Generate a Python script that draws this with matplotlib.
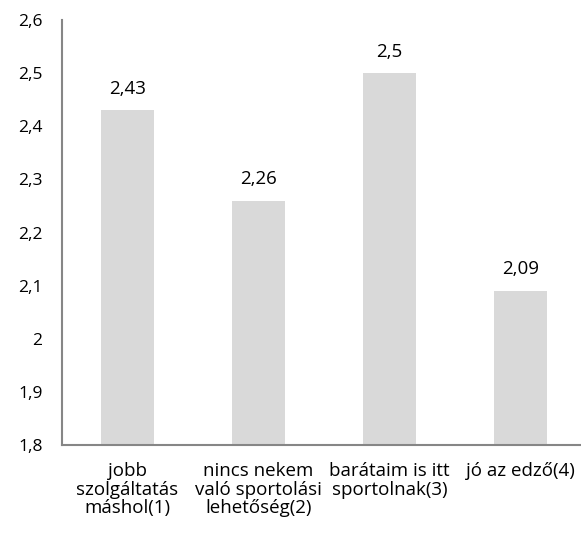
import matplotlib
matplotlib.use("Agg")
import matplotlib.pyplot as plt

categories = ["jobb\nszolgáltatás\nmáshol(1)",
              "nincs nekem\nvaló sportolási\nlehetőség(2)",
              "barátaim is itt\nsportolnak(3)",
              "jó az edző(4)"]
values = [2.43, 2.26, 2.5, 2.09]
yticks = [1.8, 1.9, 2.0, 2.1, 2.2, 2.3, 2.4, 2.5, 2.6]

plt.rcParams['font.family'] = ['Open Sans', 'DejaVu Sans']
plt.rcParams['font.size'] = 13.5


def fmt(v):
    s = f"{v:.2f}".rstrip("0").rstrip(".")
    return s.replace(".", ",")


fig = plt.figure(figsize=(5.81, 5.37), dpi=100)
ax = fig.add_axes([0.1067, 0.1713, 0.9019, 0.7914])

x = list(range(len(values)))
ax.bar(x, [v - 1.8 for v in values], bottom=1.8, width=0.4, color="#d9d9d9")

for xi, v in zip(x, values):
    ax.annotate(fmt(v), (xi, v), xytext=(0, 9), textcoords="offset points",
                ha="center", va="bottom", color="#000000")

ax.set_xlim(-0.5, 3.5)
ax.set_ylim(1.8, 2.6)
ax.set_yticks(yticks)
ax.set_yticklabels([fmt(t) for t in yticks], fontsize=12.5)
ax.set_xticks(x)
ax.set_xticklabels(categories, linespacing=1.06)
ax.tick_params(axis="both", length=0)
ax.tick_params(axis="y", pad=14)
ax.tick_params(axis="x", pad=12)

for side in ("top", "right"):
    ax.spines[side].set_visible(False)
for side in ("left", "bottom"):
    ax.spines[side].set_color("#868686")
    ax.spines[side].set_linewidth(1.5)

fig.savefig("out.png", dpi=100)
